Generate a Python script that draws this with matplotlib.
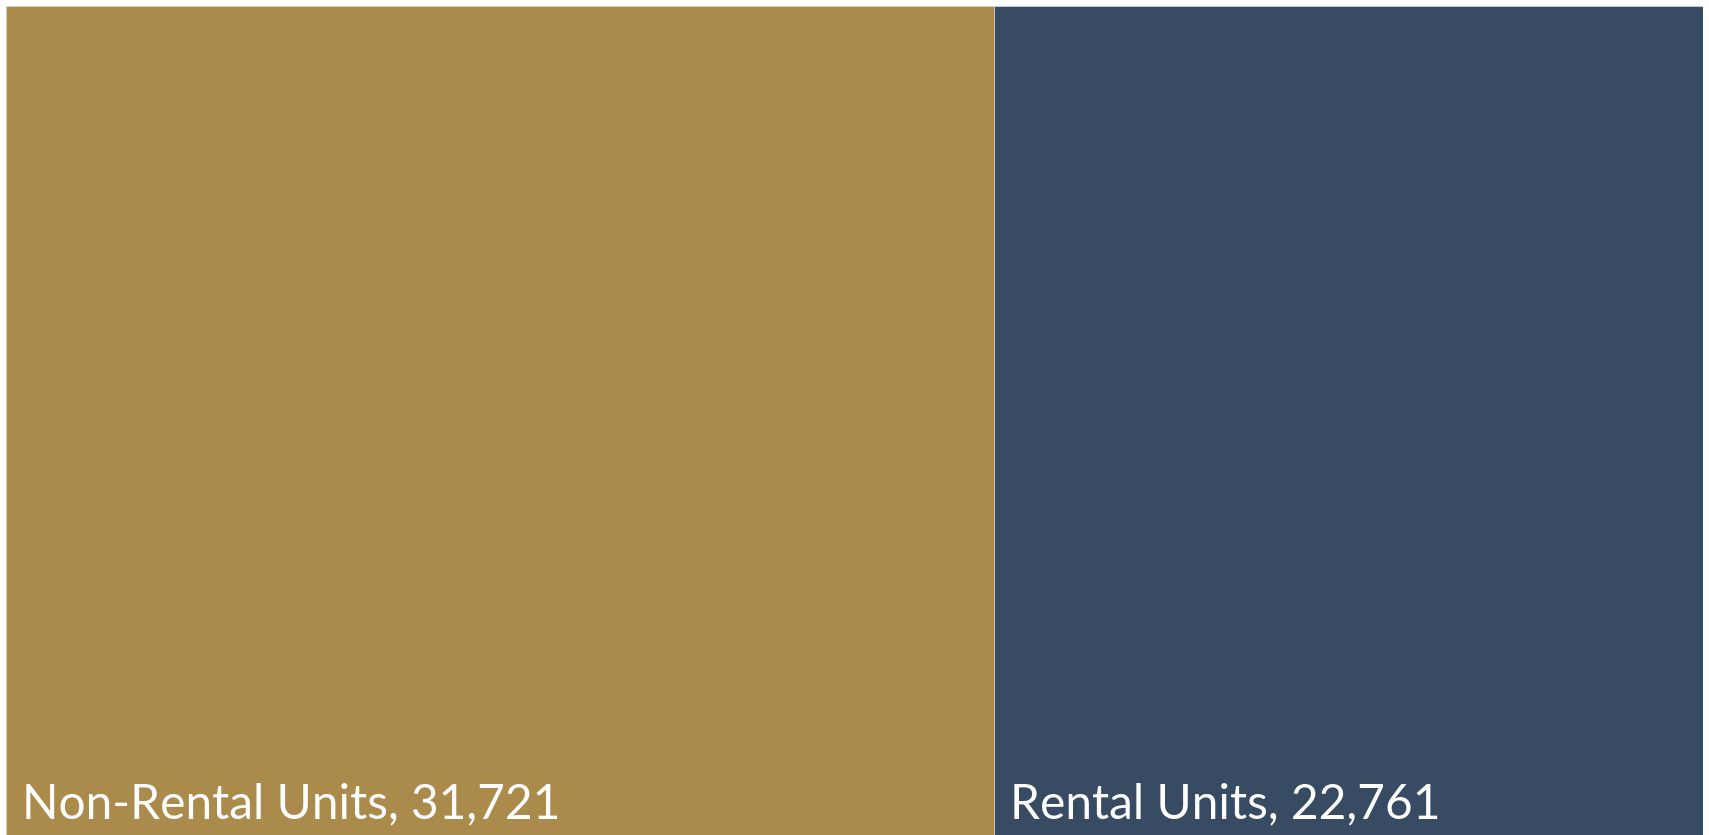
import matplotlib
matplotlib.use("Agg")
import matplotlib.pyplot as plt

categories = ["Non-Rental Units", "Rental Units"]
values = [31721, 22761]
colors = ["#AB8B4C", "#374B63"]

W, H = 1709, 835
fig = plt.figure(figsize=(W / 100, H / 100), dpi=100)
fig.patch.set_facecolor("white")
ax = fig.add_axes([6 / W, 0, (1703 - 6) / W, (835 - 6) / H])
total = sum(values)
lefts = [sum(values[:i]) for i in range(len(values))]
ax.bar(lefts, [1] * len(values), width=values, align="edge", color=colors,
       edgecolor="#d0d0d0", linewidth=0.6)
ax.set_xlim(0, total)
ax.set_ylim(0, 1)
ax.axis("off")

for left, cat, val in zip(lefts, categories, values):
    ax.annotate(f"{cat}, {val:,}", xy=(left, 0), xytext=(16, 17),
                textcoords="offset pixels", ha="left", va="baseline",
                color="white", fontsize=34.5, family="Lato")

fig.savefig("out.png", dpi=100)
